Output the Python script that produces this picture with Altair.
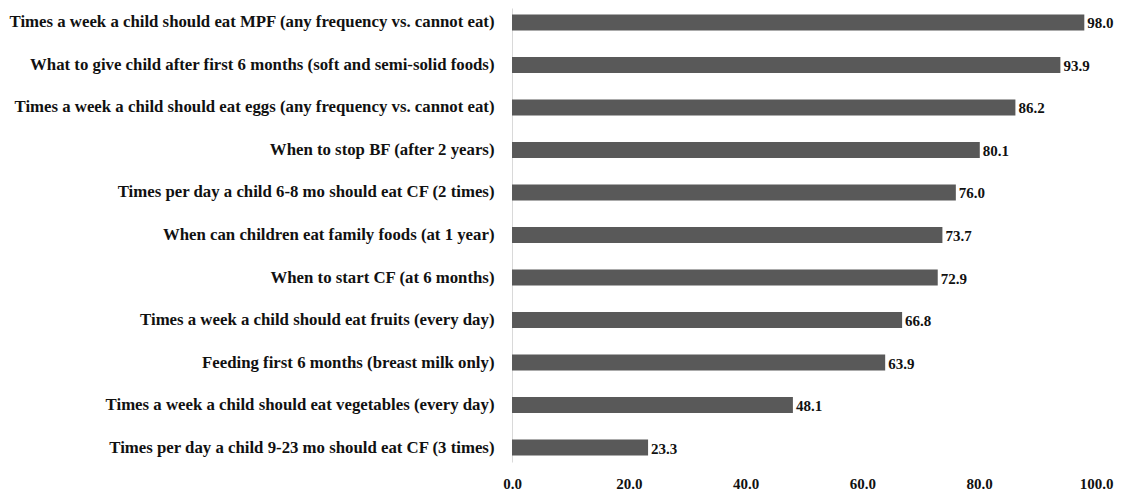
import altair as alt
import pandas as pd

items = [
    "Times a week a child should eat MPF (any frequency vs. cannot eat)",
    "What to give child after first 6 months (soft and semi-solid foods)",
    "Times a week a child should eat eggs (any frequency vs. cannot eat)",
    "When to stop BF (after 2 years)",
    "Times per day a child 6-8 mo should eat CF (2 times)",
    "When can children eat family foods (at 1 year)",
    "When to start CF (at 6 months)",
    "Times a week a child should eat fruits (every day)",
    "Feeding first 6 months (breast milk only)",
    "Times a week a child should eat vegetables (every day)",
    "Times per day a child 9-23 mo should eat CF (3 times)",
]
values = [98.0, 93.9, 86.2, 80.1, 76.0, 73.7, 72.9, 66.8, 63.9, 48.1, 23.3]
x_ticks = [0, 20, 40, 60, 80, 100]

df = pd.DataFrame({"item": items, "value": values})
FONT = "Liberation Serif"

y_enc = alt.Y(
    "item:N", sort=None, title=None,
    scale=alt.Scale(paddingInner=0.624, paddingOuter=0.153),
    axis=alt.Axis(labelFont=FONT, labelFontSize=16.8, labelFontWeight="bold",
                  labelColor="#111111", labelLimit=700, labelPadding=18,
                  ticks=False, domainColor="#d9d9d9", domainWidth=1, grid=False),
)
x_enc = alt.X(
    "value:Q", title=None,
    scale=alt.Scale(domain=[0, 100], nice=False),
    axis=alt.Axis(values=x_ticks, format=".1f", labelFont=FONT, labelFontSize=15,
                  labelFontWeight="bold", labelColor="#111111", labelPadding=14,
                  ticks=False, domain=False, grid=False, labelFlush=False),
)

bars = alt.Chart(df).mark_bar(color="#595959").encode(x=x_enc, y=y_enc)
labels = alt.Chart(df).mark_text(
    align="left", baseline="middle", dx=3, dy=1, font=FONT, fontSize=15,
    fontWeight="bold", color="#111111"
).encode(x="value:Q", y=alt.Y("item:N", sort=None), text=alt.Text("value:Q", format=".1f"))

chart = (bars + labels).properties(width=584, height=454, padding=0).configure_view(stroke=None)
chart.save("out.html", embed_options={"renderer": "svg", "actions": False})
